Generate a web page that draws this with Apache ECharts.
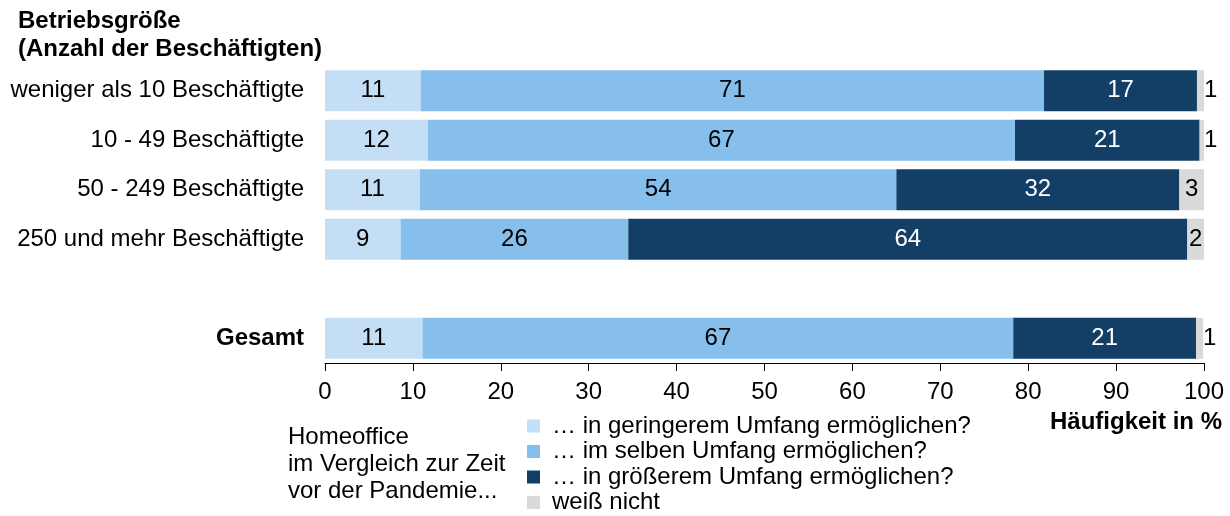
<!DOCTYPE html>
<html>
<head>
<meta charset="utf-8">
<script src="https://cdn.jsdelivr.net/npm/echarts@6/dist/echarts.min.js"></script>
<style>html,body{margin:0;padding:0;background:#fff}#c{width:1230px;height:516px}</style>
</head>
<body>
<div id="c"></div>
<script>
const categories = ['weniger als 10 Beschäftigte', '10 - 49 Beschäftigte', '50 - 249 Beschäftigte', '250 und mehr Beschäftigte', '', 'Gesamt'];
const seriesNames = ['… in geringerem Umfang ermöglichen?', '… im selben Umfang ermöglichen?', '… in größerem Umfang ermöglichen?', 'weiß nicht'];
const geringer = [10.9, 11.7, 10.8, 8.6, null, 11.1];
const selben   = [70.9, 66.8, 54.2, 25.9, null, 67.2];
const groesser = [17.4, 21.0, 32.2, 63.6, null, 20.8];
const weissNicht = [0.8, 0.5, 2.8, 1.9, null, 0.8];
const xTicks = [0, 10, 20, 30, 40, 50, 60, 70, 80, 90, 100];

const colors = ['#c4dff5', '#86beec', '#133f66', '#d9d9d9'];
const labelColors = ['#000', '#000', '#fff', '#000'];
const FONT = 'Liberation Sans, Arial, sans-serif';
const FS = 24;

function mk(idx, arr) {
  return {
    name: seriesNames[idx],
    type: 'bar',
    stack: 'all',
    barWidth: 41,
    itemStyle: { color: colors[idx] },
    label: {
      show: true,
      position: 'inside',
      color: labelColors[idx],
      fontSize: FS,
      fontFamily: FONT,
      formatter: p => (p.value == null ? '' : String(Math.round(p.value)))
    },
    data: arr.map(v => {
      if (v == null) return '-';
      if (idx === 3 && v < 1.5) {
        return { value: v, label: { position: 'right', distance: 0 } };
      }
      return v;
    })
  };
}

const chart = echarts.init(document.getElementById('c'));
chart.setOption({
  animation: false,
  textStyle: { fontFamily: FONT },
  grid: { left: 325, right: 26, top: 66, bottom: 153, containLabel: false },
  xAxis: {
    type: 'value',
    min: 0, max: 100, interval: 10,
    axisLine: { show: true, lineStyle: { color: '#000', width: 1 } },
    axisTick: { show: true, length: 8, lineStyle: { color: '#000' } },
    splitLine: { show: false },
    axisLabel: { color: '#000', fontSize: FS, margin: 17, fontFamily: FONT,
      formatter: v => xTicks.includes(v) ? String(v) : '' }
  },
  yAxis: {
    type: 'category',
    inverse: true,
    data: categories,
    axisLine: { show: false },
    axisTick: { show: false },
    axisLabel: {
      color: '#000', fontSize: FS, margin: 21, fontFamily: FONT,
      formatter: v => v === 'Gesamt' ? '{b|' + v + '}' : v,
      rich: { b: { fontWeight: 'bold', fontSize: FS, color: '#000', fontFamily: FONT } }
    }
  },
  legend: {
    orient: 'vertical',
    left: 527, top: 414,
    padding: 0,
    itemWidth: 13, itemHeight: 13, itemGap: 1.5,
    icon: 'rect',
    textStyle: { fontSize: FS, color: '#000', fontFamily: FONT, lineHeight: 24, padding: [0, 0, 0, 7] },
    data: seriesNames
  },
  graphic: [
    { type: 'text', left: 18, top: 7, style: { text: 'Betriebsgröße\n(Anzahl der Beschäftigten)', fontSize: FS, fontWeight: 'bold', fill: '#000', lineHeight: 28, fontFamily: FONT } },
    { type: 'text', right: 8, top: 410, style: { text: 'Häufigkeit in %', fontSize: FS, fontWeight: 'bold', fill: '#000', fontFamily: FONT } },
    { type: 'text', left: 288, top: 423.5, style: { text: 'Homeoffice\nim Vergleich zur Zeit\nvor der Pandemie...', fontSize: FS, fill: '#000', lineHeight: 27, fontFamily: FONT } }
  ],
  series: [mk(0, geringer), mk(1, selben), mk(2, groesser), mk(3, weissNicht)]
});
</script>
</body>
</html>
